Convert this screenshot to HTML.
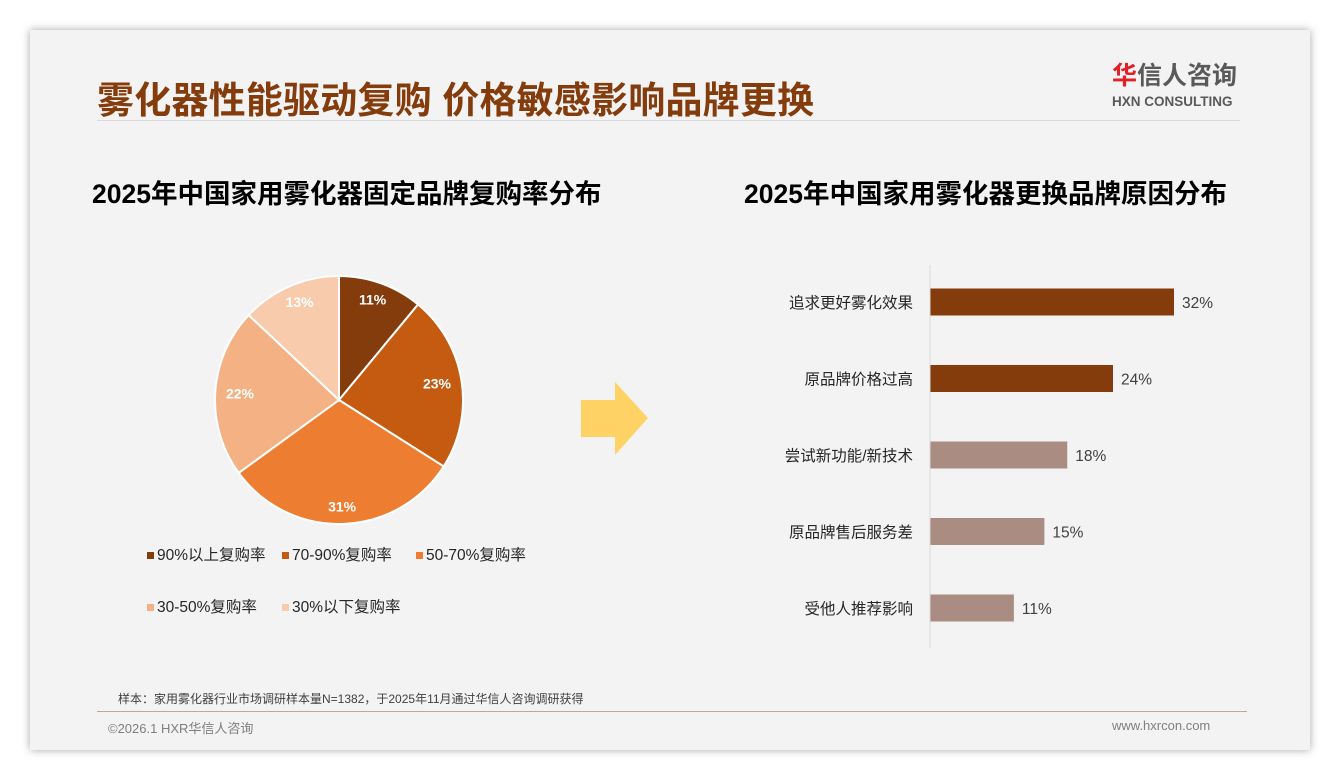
<!DOCTYPE html>
<html><head><meta charset="utf-8"><style>
body{margin:0;width:1340px;height:780px;background:#fff;font-family:"Liberation Sans","Noto Sans CJK SC",sans-serif;overflow:hidden;position:relative}
.card{position:absolute;left:30px;top:30px;width:1280px;height:720px;background:#f3f3f3;box-shadow:0 0 8px rgba(0,0,0,.35)}
.abs{position:absolute;white-space:nowrap}
</style></head><body>
<div class="card"></div>
<div class="abs" style="left:97px;top:70px;font-size:37px;font-weight:bold;color:#843c0c;letter-spacing:0.2px">雾化器性能驱动复购 价格敏感影响品牌更换</div>
<div class="abs" style="left:97px;top:120px;width:1143px;height:1px;background:#d9d9d9"></div>
<div class="abs" style="left:1112px;top:62px;font-size:25px;font-weight:bold;color:#595959;line-height:28px"><span style="color:#e31e24">华</span>信人咨询</div>
<div class="abs" style="left:1112px;top:94px;font-size:13.5px;font-weight:bold;color:#595959">HXN CONSULTING</div>
<div class="abs" style="left:92px;top:172px;font-size:26.5px;font-weight:bold;color:#000">2025年中国家用雾化器固定品牌复购率分布</div>
<div class="abs" style="left:744px;top:172px;font-size:26.5px;font-weight:bold;color:#000">2025年中国家用雾化器更换品牌原因分布</div>
<svg class="abs" style="left:0;top:0" width="1340" height="780">
<g id="pie"></g>
<polygon points="581,400 615,400 615,382 648,418 615,455 615,437 581,437" fill="#ffd265"/>
<g id="bars"></g>
<line x1="930" y1="265" x2="930" y2="648" stroke="#d9d9d9"/>
</svg>
<div id="legend"></div>
<div class="abs" style="left:118px;top:690px;font-size:12px;color:#404040">样本：家用雾化器行业市场调研样本量N=1382，于2025年11月通过华信人咨询调研获得</div>
<div class="abs" style="left:97px;top:711px;width:1150px;height:1px;background:#c9a58c"></div>
<div class="abs" style="left:30px;top:712px;width:1280px;height:38px;background:#f8f8f8;z-index:-1"></div>
<div class="abs" style="left:108px;top:718px;font-size:13px;color:#7f7f7f">©2026.1 HXR华信人咨询</div>
<div class="abs" style="left:1112px;top:718px;font-size:13px;color:#7f7f7f">www.hxrcon.com</div>
<script>
const pieLabels=["90%以上复购率","70-90%复购率","50-70%复购率","30-50%复购率","30%以下复购率"];
const pieValues=[11,23,31,22,13];
const pieColors=["#843c0c","#c55a11","#ed7d31","#f4b183","#f8cbad"];
const barCats=["追求更好雾化效果","原品牌价格过高","尝试新功能/新技术","原品牌售后服务差","受他人推荐影响"];
const barValues=[32,24,18,15,11];
const barColors=["#843c0c","#843c0c","#ab8c82","#ab8c82","#ab8c82"];
const NS="http://www.w3.org/2000/svg";
const cx=339,cy=400,r=124;
const pie=document.getElementById('pie');
const tot=pieValues.reduce((a,b)=>a+b,0);
let a0=-Math.PI/2;
pieValues.forEach((v,i)=>{
 const a1=a0+v/tot*2*Math.PI;
 const p=document.createElementNS(NS,'path');
 const x0=cx+r*Math.cos(a0),y0=cy+r*Math.sin(a0),x1=cx+r*Math.cos(a1),y1=cy+r*Math.sin(a1);
 p.setAttribute('d',`M${cx},${cy}L${x0},${y0}A${r},${r} 0 ${a1-a0>Math.PI?1:0} 1 ${x1},${y1}Z`);
 p.setAttribute('fill',pieColors[i]);p.setAttribute('stroke','#fff');p.setAttribute('stroke-width','2');
 
 
 pie.appendChild(p);
 const am=(a0+a1)/2;
 const t=document.createElementNS(NS,'text');
 t.setAttribute('x',cx+r*0.8*Math.cos(am));t.setAttribute('y',cy+r*0.86*Math.sin(am)+5);
 t.setAttribute('text-anchor','middle');t.setAttribute('font-size','14');t.setAttribute('font-weight','bold');t.setAttribute('fill','#fff');
 t.textContent=v+'%';
 
 
 pie.appendChild(t);
 a0=a1;
});
const leg=document.getElementById('legend');
const legPos=[[147,543],[282,543],[416,543],[147,595],[282,595]];
pieLabels.forEach((l,i)=>{
 const d=document.createElement('div');d.className='abs';
 d.style.left=legPos[i][0]+'px';d.style.top=legPos[i][1]+'px';d.style.fontSize='15.5px';d.style.color='#262626';
 d.innerHTML=`<span style="display:inline-block;width:7px;height:7px;background:${pieColors[i]};margin-right:3px;vertical-align:middle"></span>${l}`;
 
 
 leg.appendChild(d);
});
const bars=document.getElementById('bars');
const x0b=930,scale=7.625,y0b=302,step=76.5,bh=27;
barValues.forEach((v,i)=>{
 const yc=y0b+i*step;
 const rc=document.createElementNS(NS,'rect');
 rc.setAttribute('x',x0b);rc.setAttribute('y',yc-bh/2);rc.setAttribute('width',v*scale);rc.setAttribute('height',bh);rc.setAttribute('fill',barColors[i]);
 
 
 bars.appendChild(rc);
 const t=document.createElementNS(NS,'text');
 t.setAttribute('x',x0b+v*scale+8);t.setAttribute('y',yc+6);t.setAttribute('font-size','15.5');t.setAttribute('fill','#404040');
 t.textContent=v+'%';
 
 
 bars.appendChild(t);
 const c=document.createElementNS(NS,'text');
 c.setAttribute('x',913);c.setAttribute('y',yc+6);c.setAttribute('font-size','15.5');c.setAttribute('fill','#262626');c.setAttribute('text-anchor','end');
 c.textContent=barCats[i];
 
 
 bars.appendChild(c);
});
</script>
</body></html>
